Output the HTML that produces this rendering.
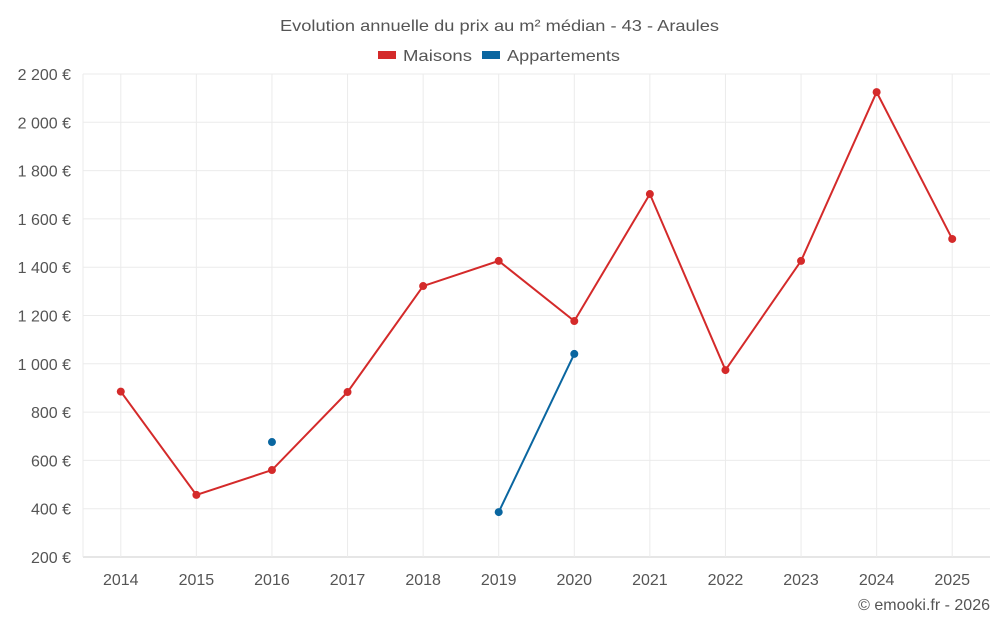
<!DOCTYPE html>
<html><head><meta charset="utf-8"><style>
html,body{margin:0;padding:0;background:#fff;}
svg{display:block;font-family:"Liberation Sans",sans-serif;}
</style></head><body>
<svg id="chart" width="1000" height="625">
<text x="280" y="31" textLength="439" lengthAdjust="spacingAndGlyphs" font-size="16" fill="#555">Evolution annuelle du prix au m² médian - 43 - Araules</text>
<g>
<g><rect x="378" y="51" width="18" height="8" fill="#d42a2a"/><text x="403" y="61" textLength="69" lengthAdjust="spacingAndGlyphs" font-size="16" fill="#555">Maisons</text></g>
<g><rect x="482" y="51" width="18" height="8" fill="#0a66a0"/><text x="507" y="61" textLength="113" lengthAdjust="spacingAndGlyphs" font-size="16" fill="#555">Appartements</text></g>
</g>
<g id="grid"></g><g id="axes"></g><g id="series"></g>
<text x="990" y="610" text-anchor="end" font-size="16" fill="#555">© emooki.fr - 2026</text>
</svg>
<script>
const years=["2014","2015","2016","2017","2018","2019","2020","2021","2022","2023","2024","2025"];
const maisons=[885,457,560,883,1322,1426,1177,1703,974,1426,2125,1517];
const appartements=[null,null,676,null,null,386,1041,null,null,null,null,null];
const yTicks=[200,400,600,800,1000,1200,1400,1600,1800,2000,2200];
const tickLabels=["200 €","400 €","600 €","800 €","1 000 €","1 200 €","1 400 €","1 600 €","1 800 €","2 000 €","2 200 €"];
const NS="http://www.w3.org/2000/svg";
const L=83,R=990,T=74,B=557;
const bw=(R-L)/years.length;
function xs(i){return L+bw*(i+0.5);}
function ys(v){return B-(v-200)/2000*(B-T);}
function mk(tag,at,parent){const e=document.createElementNS(NS,tag);for(const k in at)e.setAttribute(k,at[k]);parent.appendChild(e);return e;}
const grid=document.getElementById('grid'),axes=document.getElementById('axes'),ser=document.getElementById('series');
yTicks.forEach((v,i)=>{
 const l=mk('line',{x1:L,x2:R,y1:ys(v),y2:ys(v),stroke:i==0?'#ccc':'#ebebeb'},grid);
 
 
 const t=mk('text',{x:71,y:ys(v)+6,'text-anchor':'end','font-size':16,fill:'#555'},axes);
 t.textContent=tickLabels[i];
 
 
});
mk('line',{x1:L,x2:L,y1:T,y2:B,stroke:'#ebebeb'},grid);
years.forEach((y,i)=>{
 const l=mk('line',{x1:xs(i),x2:xs(i),y1:T,y2:B,stroke:'#ebebeb'},grid);
 
 
 const t=mk('text',{x:xs(i),y:585,'text-anchor':'middle','font-size':16,fill:'#555'},axes);
 t.textContent=y;
 
 
});
function draw(data,color,name){
 let segs=[],cur=[];
 data.forEach((v,i)=>{if(v==null){if(cur.length)segs.push(cur);cur=[];}else cur.push([xs(i),ys(v)]);});
 if(cur.length)segs.push(cur);
 segs.forEach(s=>{if(s.length>1){const p=mk('polyline',{points:s.map(q=>q.join(',')).join(' '),fill:'none',stroke:color,'stroke-width':2},ser);
  
  }});
 data.forEach((v,i)=>{if(v==null)return;
  const c=mk('circle',{cx:xs(i),cy:ys(v),r:4,fill:color},ser);
  
  });
}
draw(maisons,'#d42a2a','maisons');
draw(appartements,'#0a66a0','appartements');
</script>
</body></html>
